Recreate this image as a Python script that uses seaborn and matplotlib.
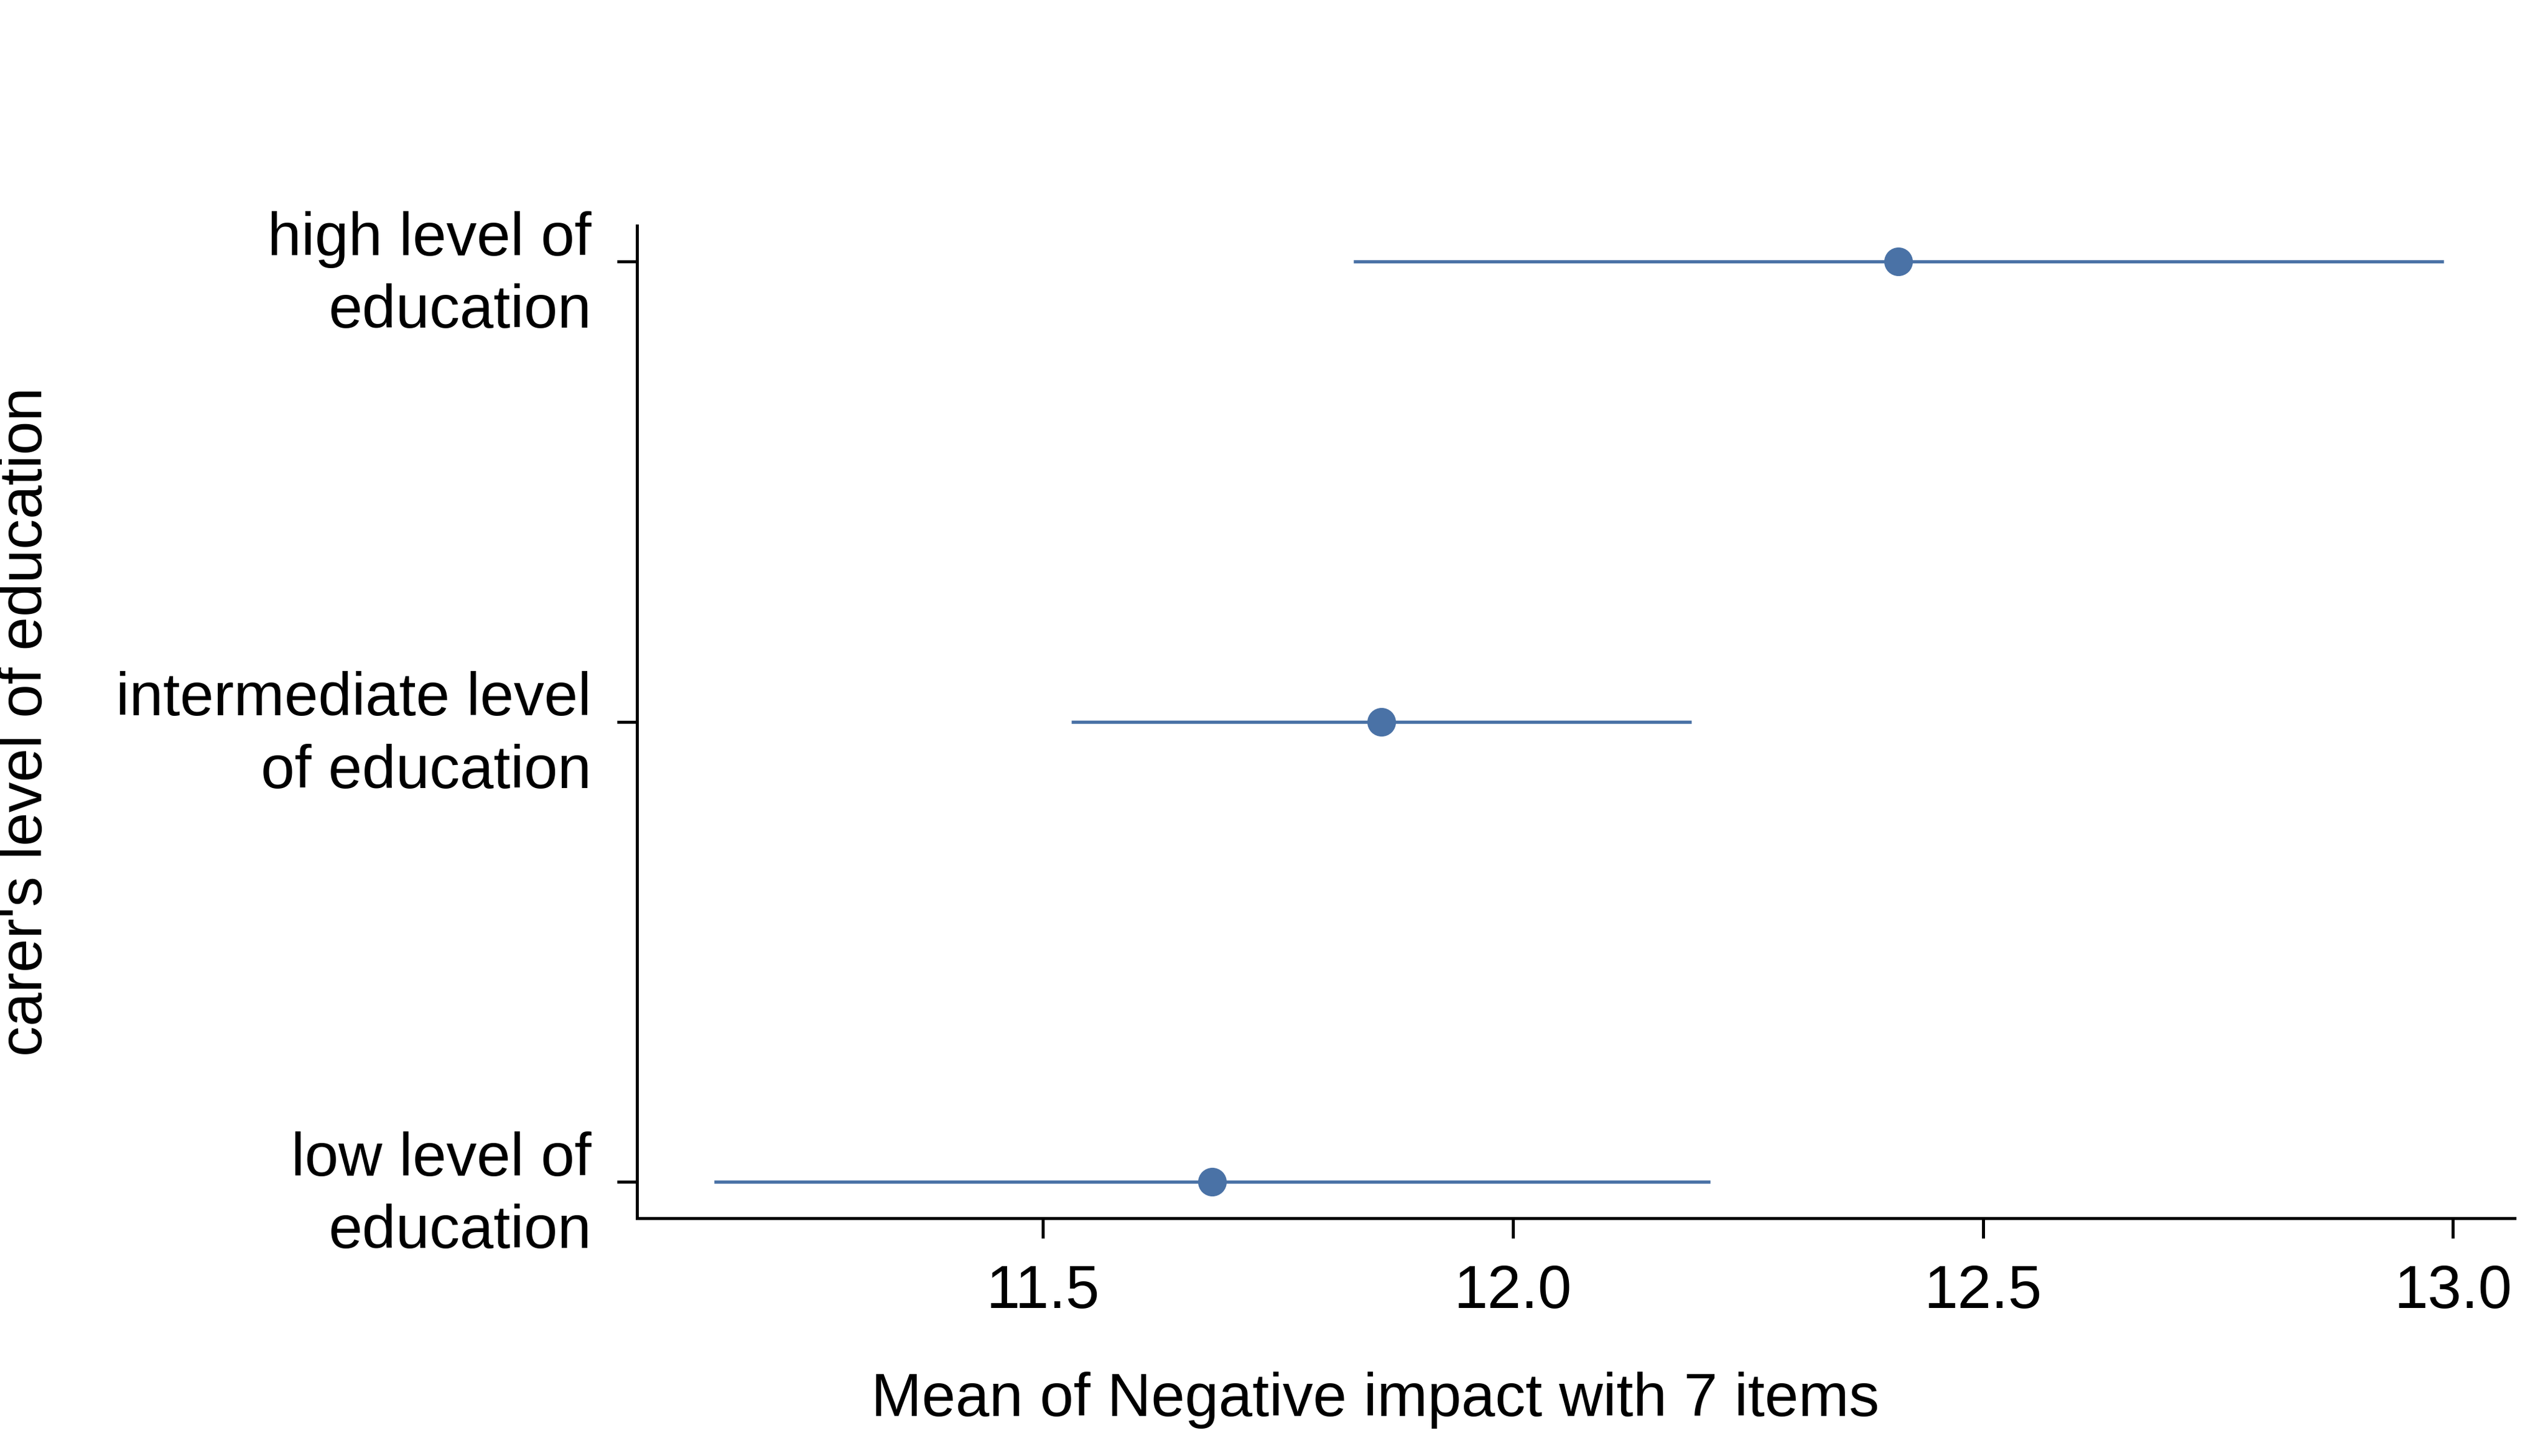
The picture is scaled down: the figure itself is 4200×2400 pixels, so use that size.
import pandas as pd
import matplotlib
matplotlib.use('Agg')
import matplotlib.pyplot as plt
import seaborn as sns

# Means and confidence limits
df = pd.DataFrame({
    'Education': ['high level of\neducation', 'intermediate level\nof education', 'low level of\neducation'],
    'Mean': [12.41, 11.86, 11.68],
    'Lower': [11.83, 11.53, 11.15],
    'Upper': [12.99, 12.19, 12.21],
})

sns.set_style('ticks')
plt.rcParams['font.family'] = ['Liberation Sans', 'DejaVu Sans']
plt.rcParams['text.color'] = 'black'
plt.rcParams['xtick.color'] = 'black'
plt.rcParams['ytick.color'] = 'black'
plt.rcParams['axes.labelcolor'] = 'black'
plt.rcParams['axes.edgecolor'] = 'black'
color = '#4a72a6'

fig = plt.figure(figsize=(14, 8))
ax = fig.add_axes([0.250, 0.1635, 0.737, 0.6815])
ax.hlines(df['Education'], df['Lower'], df['Upper'], color=color, lw=1.3)
sns.scatterplot(data=df, x='Mean', y='Education', color=color, s=110, edgecolor=color, ax=ax, zorder=3)
ax.set_xlim(11.068, 13.066)
ax.set_ylim(2.078, -0.078)
ax.set_xticks([11.5, 12.0, 12.5, 13.0])
ax.set_xlabel('Mean of Negative impact with 7 items', fontsize=24, labelpad=26)
ax.xaxis.set_label_coords(0.393, -0.155)
ax.set_ylabel("carer's level of education", fontsize=24)
ax.yaxis.set_label_coords(-0.31, 0.5)
ax.tick_params(axis='both', labelsize=24, length=8, width=1.2, pad=10)
for lab in ax.get_yticklabels():
    lab.set_horizontalalignment('right')
    lab.set_linespacing(1.35)
sns.despine(ax=ax)
ax.spines['left'].set_linewidth(1.2)
ax.spines['bottom'].set_linewidth(1.2)

plt.savefig('out.png', dpi=300)
